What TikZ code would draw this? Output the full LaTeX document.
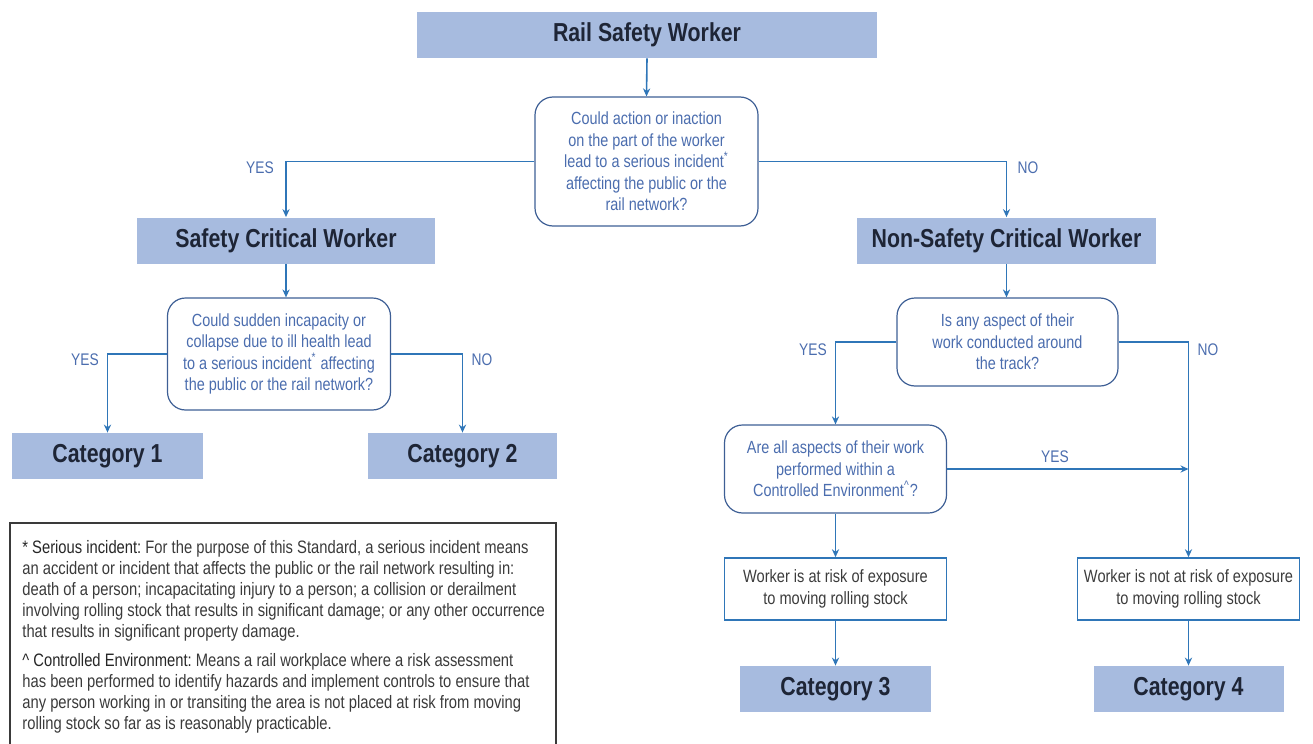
\documentclass[tikz,border=0pt]{standalone}
\usepackage{fontspec}
\setmainfont{Liberation Sans}[FakeStretch=0.82]
\usetikzlibrary{arrows.meta,positioning}

\definecolor{catfill}{HTML}{A7BBDF}
\definecolor{cattext}{HTML}{1E2536}
\definecolor{flowblue}{HTML}{2F76B8}
\definecolor{asktext}{HTML}{4B6DAE}
\definecolor{askdraw}{HTML}{3E5F95}
\definecolor{risktext}{HTML}{3C3C3C}
\definecolor{notetext}{HTML}{3A3A3A}

\tikzset{
  catbox/.style={fill=catfill, text=cattext, inner sep=0pt, minimum height=23pt,
    font=\fontsize{13}{15}\selectfont\bfseries},
  askbox/.style={draw=askdraw, line width=0.6pt, rounded corners=9pt, text=asktext,
    align=center, inner sep=0pt, font=\fontsize{8.8}{10.7}\selectfont},
  riskbox/.style={draw=flowblue, line width=0.8pt, text=risktext, align=center,
    inner sep=0pt, minimum width=111pt, minimum height=31pt,
    font=\fontsize{8.9}{11}\selectfont},
  flow/.style={draw=flowblue, line width=0.8pt, -{Stealth[length=4pt,width=3.6pt]}},
  answer/.style={text=asktext, font=\fontsize{8.4}{10}\selectfont}
}

\begin{document}
\begin{tikzpicture}[x=0.5pt, y=-0.5pt]
  \useasboundingbox (0,0) rectangle (1313,744);

  % Top level
  \node[catbox, minimum width=230pt] (rsw) at (647,35) {Rail Safety Worker};
  \node[askbox, minimum width=111.5pt, minimum height=64.5pt] (q1) at (646.5,161.5)
    {Could action or inaction\\on the part of the worker\\lead to a serious incident\textsuperscript{*}\\affecting the public or the\\rail network?};
  \draw[flow] (rsw.south) -- (q1.north);

  % Worker types
  \node[catbox, minimum width=149pt] (scw) at (286,240.5) {Safety Critical Worker};
  \node[catbox, minimum width=149.5pt] (nscw) at (1006.5,240.5) {Non-Safety Critical Worker};
  \draw[flow] (q1.west) -| (scw.north);
  \draw[flow] (q1.east) -| (nscw.north);
  \node[answer] (yes1) at (260,168) {YES};
  \node[answer] (no1) at (1028,168) {NO};

  % Safety critical branch
  \node[askbox, minimum width=111.5pt, minimum height=56pt] (q2) at (279,354)
    {Could sudden incapacity or\\collapse due to ill health lead\\to a serious incident\textsuperscript{*} affecting\\the public or the rail network?};
  \draw[flow] (scw.south) -- (scw.south |- q2.north);
  \node[catbox, minimum width=95.5pt] (cat1) at (107.5,456) {Category 1};
  \node[catbox, minimum width=94.5pt] (cat2) at (462.5,456) {Category 2};
  \draw[flow] (q2.west) -| (cat1.north);
  \draw[flow] (q2.east) -| (cat2.north);
  \node[answer] (yes2) at (85,360) {YES};
  \node[answer] (no2) at (482,360) {NO};

  % Non-safety critical branch
  \node[askbox, minimum width=110.5pt, minimum height=44pt] (q3) at (1007.5,342)
    {Is any aspect of their\\work conducted around\\the track?};
  \draw[flow] (nscw.south) -- (nscw.south |- q3.north);
  \node[askbox, minimum width=111pt, minimum height=44pt] (q4) at (835.5,469)
    {Are all aspects of their work\\performed within a\\Controlled Environment\textsuperscript{\^{}}?};
  \node[riskbox] (atrisk) at (835.5,589) {Worker is at risk of exposure\\to moving rolling stock};
  \node[riskbox] (norisk) at (1188.5,589) {Worker is not at risk of exposure\\to moving rolling stock};
  \draw[flow] (q3.west) -| (q4.north);
  \draw[flow] (q3.east) -| (norisk.north);
  \draw[flow] (q4.east) -- (q4.east -| norisk.north);
  \draw[flow] (q4.south) -- (atrisk.north);
  \node[answer] (yes3) at (813,350) {YES};
  \node[answer] (no3) at (1208,350) {NO};
  \node[answer] (yes4) at (1055,457) {YES};

  % Categories 3 and 4
  \node[catbox, minimum width=95.5pt] (cat3) at (835.5,689) {Category 3};
  \node[catbox, minimum width=95pt] (cat4) at (1188.5,689) {Category 4};
  \draw[flow] (atrisk.south) -- (cat3.north);
  \draw[flow] (norisk.south) -- (cat4.north);

  % Footnotes
  \draw[draw=notetext, line width=0.8pt] (10,748) -- (10,523) -- (556,523) -- (556,748);
  \node[anchor=north west, align=left, text=notetext, inner sep=0pt,
    font=\fontsize{9}{10.5}\selectfont\frenchspacing] (notes) at (22,540)
    {\textcolor{black!85}{* Serious incident:} For the purpose of this Standard, a serious incident means\\
     an accident or incident that affects the public or the rail network resulting in:\\
     death of a person; incapacitating injury to a person; a collision or derailment\\
     involving rolling stock that results in significant damage; or any other occurrence\\
     that results in significant property damage.\\[4pt]
     \textcolor{black!85}{\^{} Controlled Environment:} Means a rail workplace where a risk assessment\\
     has been performed to identify hazards and implement controls to ensure that\\
     any person working in or transiting the area is not placed at risk from moving\\
     rolling stock so far as is reasonably practicable.};
\end{tikzpicture}
\end{document}
